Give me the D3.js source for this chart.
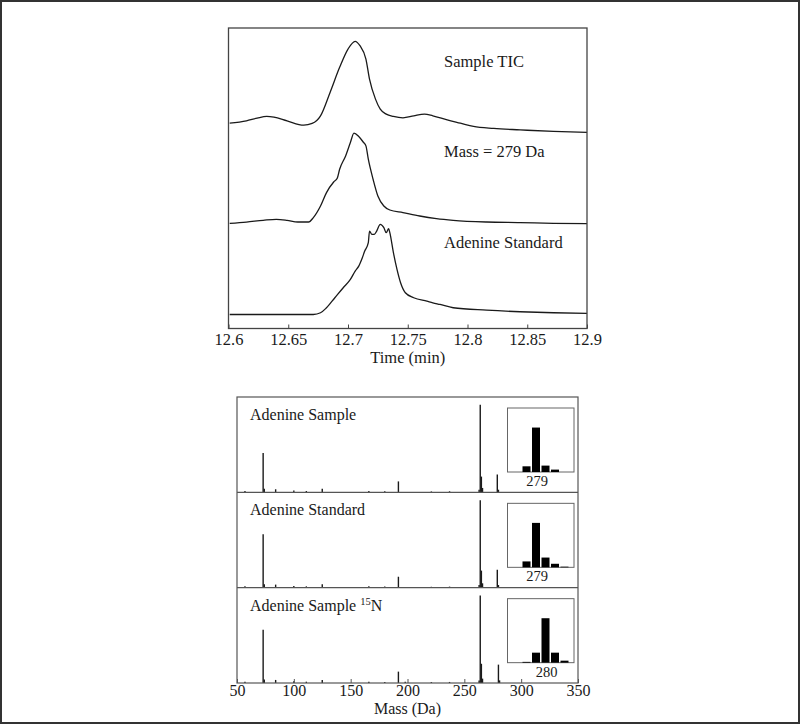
<!DOCTYPE html>
<html>
<head>
<meta charset="utf-8">
<script src="https://cdn.jsdelivr.net/npm/d3@7"></script>
<style>
  body { margin: 0; background: #fff; }
  svg { display: block; font-family: "Liberation Serif", "Times New Roman", serif; }
</style>
</head>
<body>
<svg id="chart" width="800" height="724"></svg>
<script>
// ---- chromatograms (time in min, intensity in a.u. above each trace's own baseline)
const ticTime  = [12.601, 12.615, 12.624, 12.632, 12.638, 12.649, 12.663, 12.670, 12.677, 12.685, 12.693, 12.700, 12.706, 12.710, 12.715, 12.718, 12.723, 12.727, 12.732, 12.738, 12.746, 12.755, 12.764, 12.771, 12.783, 12.794, 12.805, 12.822, 12.844, 12.872, 12.900];
const ticValue = [15, 17.3, 20, 21.7, 21, 17.3, 13, 14.7, 22.3, 45.7, 70.7, 89, 96.7, 92.3, 79, 59, 39, 29, 24, 21.7, 20.3, 22.3, 24, 22.3, 18.3, 15, 11.7, 9.7, 8.3, 6.7, 5.7];

const m279Time  = [12.601, 12.615, 12.629, 12.640, 12.649, 12.658, 12.667, 12.671, 12.677, 12.682, 12.688, 12.691, 12.693, 12.698, 12.702, 12.705, 12.709, 12.713, 12.715, 12.717, 12.721, 12.725, 12.730, 12.735, 12.746, 12.760, 12.774, 12.788, 12.816, 12.844, 12.872, 12.900];
const m279Value = [5, 6.3, 8, 9, 8, 6.3, 6.3, 10.7, 22.3, 35.7, 46.3, 50, 59, 72.3, 85.7, 95, 91.7, 85.7, 82.3, 69, 49, 32.3, 22.3, 18.3, 15.7, 12.3, 9.7, 8, 6.3, 5.7, 5, 4.7];

const stdTime  = [12.601, 12.621, 12.649, 12.671, 12.677, 12.682, 12.689, 12.696, 12.702, 12.706, 12.709, 12.712, 12.714, 12.717, 12.718, 12.720, 12.722, 12.724, 12.727, 12.730, 12.732, 12.734, 12.735, 12.738, 12.741, 12.744, 12.748, 12.755, 12.766, 12.771, 12.777, 12.788, 12.816, 12.844, 12.872, 12.900];
const stdValue = [4, 4, 4, 4, 5.7, 10.7, 20.7, 30.7, 39, 47.3, 52.3, 60.7, 67.3, 75.7, 87.3, 84, 84, 87.3, 94, 90.7, 85.7, 89.7, 85.7, 65.7, 49, 35.7, 25.7, 20.7, 17.3, 15.7, 14, 10.7, 8.3, 6.7, 5.7, 5];

const traceNames   = ["Sample TIC", "Mass = 279 Da", "Adenine Standard"];
const traceOffsets = [190, 100, 10];
const timeTicks    = [12.6, 12.65, 12.7, 12.75, 12.8, 12.85, 12.9];

// ---- mass spectra (relative intensity, base peak = 100)
const sampleMass      = [57, 73, 74, 84, 100, 111, 125, 166, 180, 192, 221, 237, 263, 264, 265, 266, 279, 280];
const sampleIntensity = [1.5, 45, 4, 3.5, 2, 1.5, 4, 1.5, 1.2, 12.5, 1, 1.2, 3, 100, 18, 5, 20.5, 3];
const standardMass      = [57, 73, 74, 84, 100, 111, 125, 166, 180, 192, 221, 237, 263, 264, 265, 266, 279, 280];
const standardIntensity = [1.5, 61, 4, 3.5, 2, 1.5, 4, 1.5, 1.2, 12.5, 1, 1.2, 3, 100, 19.5, 5, 20.6, 3];
const labeledMass      = [57, 73, 74, 84, 100, 111, 125, 166, 180, 192, 198, 221, 237, 263, 264, 265, 266, 280, 281];
const labeledIntensity = [1.5, 61, 4, 3.5, 2, 1.5, 3.5, 1.5, 1.2, 13, 1.5, 1, 1.2, 3, 100, 22, 5, 21, 3];
const spectrumNames = ["Adenine Sample", "Adenine Standard", "Adenine Sample "];
const massTicks = [50, 100, 150, 200, 250, 300, 350];

// ---- isotope insets
const isoMass     = [278, 279, 280, 281, 282];
const isoSample   = [12.8, 100, 14.4, 5.4, 0];
const isoStandard = [13.3, 100, 22, 8, 1.5];
const isoLabeled  = [1.8, 22.5, 100, 22.5, 4.5];
const isoLabels   = ["279", "279", "280"];
const isoLabelMass = [279, 279, 280];

const svg = d3.select("#chart");
const ink = "#1a1a1a";

svg.append("rect")
    .attr("x", 1).attr("y", 1).attr("width", 798).attr("height", 722)
    .attr("fill", "none").attr("stroke", "#333").attr("stroke-width", 2);

// ================= upper: chromatograms =================
const chrom = { left: 228.5, right: 587, top: 28, bottom: 328.5 };

const x = d3.scaleLinear().domain([12.6, 12.9]).range([chrom.left, chrom.right]);
const y = d3.scaleLinear().domain([0, 300]).range([chrom.bottom, chrom.top]);

const traces = [
    { time: ticTime, value: ticValue },
    { time: m279Time, value: m279Value },
    { time: stdTime, value: stdValue }
];

const gTop = svg.append("g");
const line = d3.line().curve(d3.curveMonotoneX);

traces.forEach((t, i) => {
    const pts = t.time.map((tm, k) => [x(tm), y(t.value[k] + traceOffsets[i])]);
    gTop.append("path")
        .attr("d", line(pts))
        .attr("fill", "none")
        .attr("stroke", ink)
        .attr("stroke-width", 1.3)
        .attr("stroke-linejoin", "round");
});

const labelY = [66.5, 157, 248];
traceNames.forEach((name, i) => {
    gTop.append("text")
        .attr("x", 444).attr("y", labelY[i])
        .attr("font-size", 16.5).attr("fill", ink)
        .text(name);
});

const xAxis = d3.axisBottom(x)
    .tickValues(timeTicks)
    .tickFormat(d3.format("~g"))
    .tickSizeInner(-4).tickSizeOuter(0).tickPadding(5);

const gx = gTop.append("g")
    .attr("transform", `translate(0,${chrom.bottom})`)
    .call(xAxis);
gx.select(".domain").remove();
gx.selectAll("line").attr("stroke", "#444");
gx.selectAll("text").attr("font-family", "Liberation Serif").attr("font-size", 16.5).attr("fill", ink);

gTop.append("rect")
    .attr("x", chrom.left).attr("y", chrom.top)
    .attr("width", chrom.right - chrom.left).attr("height", chrom.bottom - chrom.top)
    .attr("fill", "none").attr("stroke", "#444").attr("stroke-width", 1.3);

gTop.append("text")
    .attr("x", (chrom.left + chrom.right) / 2).attr("y", 362.5)
    .attr("text-anchor", "middle").attr("font-size", 16.5).attr("fill", ink)
    .text("Time (min)");

// ================= lower: mass spectra =================
const spec = { left: 237, right: 578, top: 397, bottom: 683 };
const panelH = (spec.bottom - spec.top) / 3;

const mx = d3.scaleLinear().domain([50, 350]).range([spec.left, spec.right]);

const spectra = [
    { mass: sampleMass, inten: sampleIntensity, iso: isoSample },
    { mass: standardMass, inten: standardIntensity, iso: isoStandard },
    { mass: labeledMass, inten: labeledIntensity, iso: isoLabeled }
];

const isoX = d3.scaleLinear().domain([276, 283]).range([507.5, 574]);
const gBot = svg.append("g");

spectra.forEach((s, i) => {
    const p0 = spec.top + i * panelH;
    const p1 = p0 + panelH;
    const py = d3.scaleLinear().domain([0, 109]).range([p1, p0]);
    const g = gBot.append("g");

    g.selectAll("line.peak")
        .data(s.mass.map((m, k) => ({ m, v: s.inten[k] })))
        .join("line")
        .attr("class", "peak")
        .attr("x1", d => mx(d.m)).attr("x2", d => mx(d.m))
        .attr("y1", py(0)).attr("y2", d => py(d.v))
        .attr("stroke", ink).attr("stroke-width", 1.4);

    // panel title
    const t = g.append("text")
        .attr("x", 250).attr("y", p0 + 23)
        .attr("font-size", 16).attr("fill", ink)
        .text(spectrumNames[i]);
    if (i === 2) {
        t.append("tspan").attr("font-size", 10.5).attr("dy", -6).text("15");
        t.append("tspan").attr("font-size", 16).attr("dy", 6).text("N");
    }

    // isotope inset
    const iTop = p0 + 11, iBot = p0 + 75;
    const iy = d3.scaleLinear().domain([0, 144]).range([iBot, iTop]);
    g.append("rect")
        .attr("x", isoX.range()[0]).attr("y", iTop)
        .attr("width", isoX.range()[1] - isoX.range()[0]).attr("height", iBot - iTop)
        .attr("fill", "#fff").attr("stroke", "#666").attr("stroke-width", 1);
    g.selectAll("rect.iso")
        .data(isoMass.map((m, k) => ({ m, v: s.iso[k] })))
        .join("rect")
        .attr("class", "iso")
        .attr("x", d => isoX(d.m) - 4).attr("width", 8)
        .attr("y", d => iy(d.v)).attr("height", d => iBot - iy(d.v))
        .attr("fill", "#000");
    g.append("text")
        .attr("x", isoX(isoLabelMass[i]) + 1).attr("y", iBot + 14)
        .attr("text-anchor", "middle").attr("font-size", 14.5).attr("fill", ink)
        .text(isoLabels[i]);

    if (i > 0) {
        g.append("line")
            .attr("x1", spec.left).attr("x2", spec.right)
            .attr("y1", p0).attr("y2", p0)
            .attr("stroke", "#555").attr("stroke-width", 1.2);
    }
});

const mAxis = d3.axisBottom(mx)
    .tickValues(massTicks)
    .tickSizeInner(-4).tickSizeOuter(0).tickPadding(2);
const gm = gBot.append("g")
    .attr("transform", `translate(0,${spec.bottom})`)
    .call(mAxis);
gm.select(".domain").remove();
gm.selectAll("line").attr("stroke", "#555");
gm.selectAll("text").attr("font-family", "Liberation Serif").attr("font-size", 16).attr("fill", ink);

gBot.append("rect")
    .attr("x", spec.left).attr("y", spec.top)
    .attr("width", spec.right - spec.left).attr("height", spec.bottom - spec.top)
    .attr("fill", "none").attr("stroke", "#555").attr("stroke-width", 1.2);

gBot.append("text")
    .attr("x", (spec.left + spec.right) / 2).attr("y", 714)
    .attr("text-anchor", "middle").attr("font-size", 16).attr("fill", ink)
    .text("Mass (Da)");
</script>
</body>
</html>
